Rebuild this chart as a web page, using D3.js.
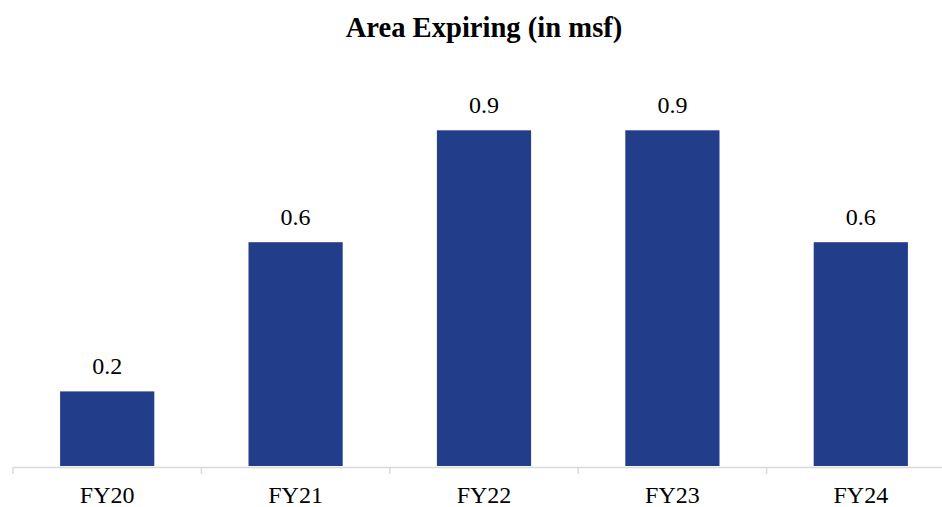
<!DOCTYPE html>
<html lang="en">
<head>
    <meta charset="UTF-8">
    <title>Area Expiring (in msf)</title>
    <script src="https://d3js.org/d3.v7.min.js"></script>
    <style>
        body { margin: 0; background: #fff; }
    </style>
</head>
<body>
    <div id="chart"></div>
    <script>
        // Chart data
        const categories = ['FY20', 'FY21', 'FY22', 'FY23', 'FY24'];
        const values = [0.2, 0.6, 0.9, 0.9, 0.6];
        const valueLabels = ['0.2', '0.6', '0.9', '0.9', '0.6'];

        const width = 942;
        const height = 507;
        const baseline = 466;
        const font = 'Liberation Serif';

        const svg = d3.select('#chart')
            .append('svg')
            .attr('width', width)
            .attr('height', height);

        // Scales
        const x = d3.scaleBand()
            .domain(categories)
            .range([13, 955])
            .paddingInner(0.5)
            .paddingOuter(0.25);

        const y = d3.scaleLinear()
            .domain([0, 1])
            .range([baseline, 93]);

        // Title
        svg.append('text')
            .attr('x', 484)
            .attr('y', 37)
            .attr('text-anchor', 'middle')
            .attr('font-family', font)
            .attr('font-size', 28.6)
            .attr('font-weight', 'bold')
            .text('Area Expiring (in msf)');

        // Bars
        svg.selectAll('.bar')
            .data(values)
            .enter()
            .append('rect')
            .attr('class', 'bar')
            .attr('x', (d, i) => x(categories[i]))
            .attr('y', d => y(d))
            .attr('width', x.bandwidth())
            .attr('height', d => baseline - y(d))
            .attr('fill', '#223d8a');

        // Value labels
        svg.selectAll('.label')
            .data(values)
            .enter()
            .append('text')
            .attr('class', 'label')
            .attr('x', (d, i) => x(categories[i]) + x.bandwidth() / 2)
            .attr('y', d => y(d) - 17)
            .attr('text-anchor', 'middle')
            .attr('font-family', font)
            .attr('font-size', 24)
            .text((d, i) => valueLabels[i]);

        // X axis
        const axis = svg.append('g')
            .attr('transform', `translate(0, ${baseline + 1})`)
            .call(d3.axisBottom(x).tickSize(0).tickPadding(19));
        axis.select('.domain').attr('stroke', '#d9d9d9').attr('stroke-width', 1.5);
        axis.selectAll('text')
            .attr('font-family', font)
            .attr('font-size', 24)
            .attr('fill', '#000');
        axis.attr('font-family', font).attr('font-size', 24);

        // Tick marks between categories
        const step = x.step();
        const tickPos = d3.range(categories.length + 1).map(i => 13 + i * step);
        svg.selectAll('.sep')
            .data(tickPos)
            .enter()
            .append('line')
            .attr('x1', d => d)
            .attr('x2', d => d)
            .attr('y1', baseline + 1)
            .attr('y2', baseline + 8)
            .attr('stroke', '#d9d9d9')
            .attr('stroke-width', 1.5);
    </script>
</body>
</html>
